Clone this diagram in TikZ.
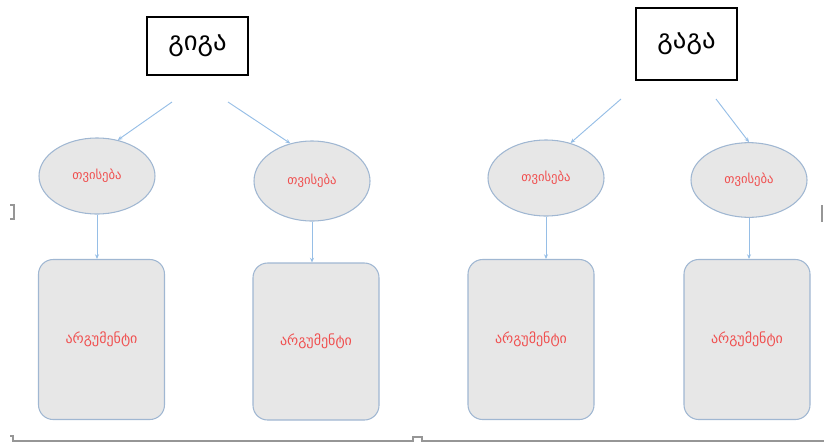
\documentclass[tikz,border=0pt]{standalone}
\usepackage{fontspec}
\setmainfont{DejaVu Sans}
\usetikzlibrary{arrows.meta,positioning,shapes.geometric}
\definecolor{boxfill}{RGB}{231,231,231}
\definecolor{boxedge}{RGB}{160,183,210}
\definecolor{arcol}{RGB}{150,190,230}
\definecolor{txtred}{RGB}{240,80,80}
\definecolor{framecol}{RGB}{150,150,150}

\begin{document}
\begin{tikzpicture}[
  x=0.75pt, y=-0.75pt,
  namebox/.style={draw=black, thick, fill=white, minimum width=75.75pt,
               font=\fontsize{20}{24}\selectfont},
  prop/.style={ellipse, draw=boxedge, thick, fill=boxfill, minimum width=87pt,
               minimum height=57pt, text=txtred, font=\fontsize{9.5}{11}\selectfont},
  argbox/.style={draw=boxedge, thick, fill=boxfill, rounded corners=11pt,
                 minimum width=94.5pt, minimum height=120pt, text=txtred,
                 font=\fontsize{10.5}{12}\selectfont},
  ar/.style={-{Stealth[length=3.5pt,width=3pt]}, draw=arcol, line width=0.7pt},
  frame/.style={draw=framecol, line width=1pt},
]
  \useasboundingbox (0,0) rectangle (824,447);

  % names on top
  \node[namebox, minimum height=43.5pt] (giga) at (197.5,46) {გიგა};
  \node[namebox, minimum height=54pt] (gaga) at (686.5,44) {გაგა};

  % properties
  \node[prop] (tv1) at (97,176) {თვისება};
  \node[prop, minimum height=60pt] (tv2) at (312,181) {თვისება};
  \node[prop] (tv3) at (546,178) {თვისება};
  \node[prop, minimum height=56pt] (tv4) at (749,180) {თვისება};

  % arguments
  \node[argbox] (arg1) at (101.5,339.5) {არგუმენტი};
  \node[argbox, minimum height=117.75pt] (arg2) at (316,341.5) {არგუმენტი};
  \node[argbox] (arg3) at (531,339.5) {არგუმენტი};
  \node[argbox] (arg4) at (747,339.5) {არგუმენტი};

  % free ends under the names
  \coordinate (g1) at (172,102);
  \coordinate (g2) at (228,102);
  \coordinate (g3) at (621,99);
  \coordinate (g4) at (716,99);

  \draw[ar] (g1) -- (tv1.60);
  \draw[ar] (g2) -- (tv2.120);
  \draw[ar] (g3) -- (tv3.55);
  \draw[ar] (g4) -- (tv4.north);

  \draw[ar] (tv1.south) -- (tv1.south |- arg1.north);
  \draw[ar] (tv2.south) -- (tv2.south |- arg2.north);
  \draw[ar] (tv3.south) -- (tv3.south |- arg3.north);
  \draw[ar] (tv4.south) -- (tv4.south |- arg4.north);

  % page frame bits
  \draw[frame] (10,205) -- (14,205) -- (14,219) -- (10,219);
  \draw[frame] (822,205) -- (822,222);
  \draw[frame] (10,436) -- (13,436) -- (13,441) -- (413,441) -- (413,437)
               -- (422,437) -- (422,441) -- (824,441);
\end{tikzpicture}
\end{document}
